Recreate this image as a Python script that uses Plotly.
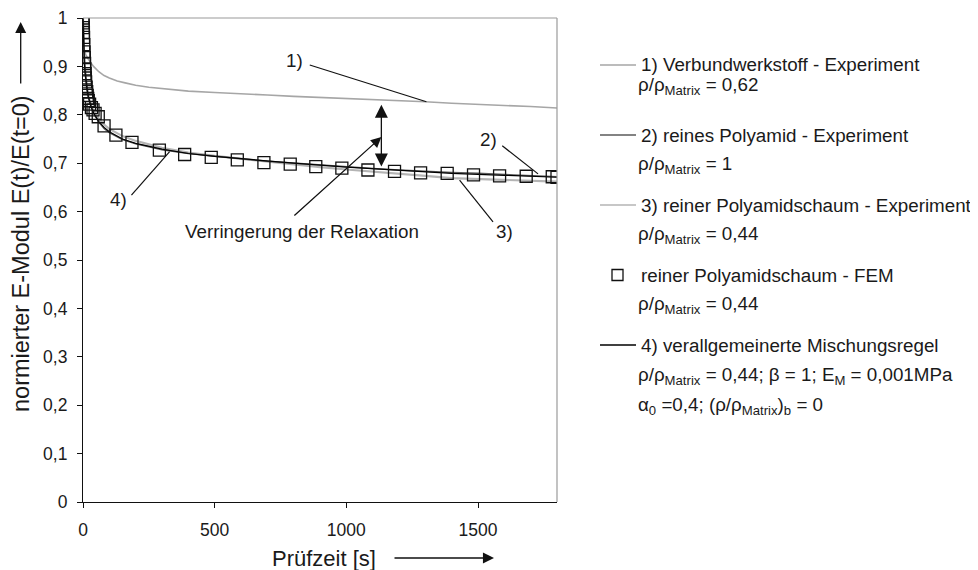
import plotly.graph_objects as go

# ---------------- data ----------------
# 1) Verbundwerkstoff - Experiment
t_verbund = [0, 1, 2, 4, 7, 10, 20, 30, 40, 60, 80, 100, 130, 160, 200, 250, 300, 400, 500,
             600, 700, 800, 900, 1000, 1100, 1200, 1300, 1400, 1500, 1600, 1700, 1800]
e_verbund = [1.0, 0.965, 0.950, 0.937, 0.930, 0.925, 0.915, 0.907, 0.900, 0.889, 0.881, 0.876,
             0.870, 0.866, 0.861, 0.857, 0.854, 0.849, 0.846, 0.844, 0.841, 0.838, 0.836, 0.834,
             0.831, 0.829, 0.827, 0.824, 0.822, 0.819, 0.817, 0.814]

# 2) reines Polyamid - Experiment
t_pa = [0, 1, 2, 4, 6, 10, 15, 20, 30, 40, 60, 80, 100, 150, 200, 300, 400, 500, 600, 700,
        800, 900, 1000, 1100, 1200, 1300, 1400, 1500, 1600, 1700, 1800]
e_pa = [1.0, 0.975, 0.958, 0.930, 0.910, 0.880, 0.855, 0.838, 0.817, 0.803, 0.785, 0.772,
        0.763, 0.749, 0.740, 0.728, 0.720, 0.714, 0.709, 0.704, 0.700, 0.696, 0.692, 0.689,
        0.686, 0.683, 0.681, 0.679, 0.677, 0.675, 0.672]

# 3) reiner Polyamidschaum - Experiment
t_schaum = [0, 1, 2, 4, 6, 10, 15, 20, 30, 40, 60, 80, 100, 150, 200, 300, 400, 500, 600, 700,
            800, 900, 1000, 1100, 1200, 1300, 1400, 1500, 1600, 1700, 1800]
e_schaum = [1.0, 0.970, 0.952, 0.925, 0.905, 0.877, 0.853, 0.838, 0.820, 0.808, 0.792, 0.780,
            0.771, 0.756, 0.746, 0.732, 0.722, 0.715, 0.709, 0.703, 0.697, 0.692, 0.687, 0.683,
            0.679, 0.674, 0.669, 0.667, 0.665, 0.664, 0.662]

# reiner Polyamidschaum - FEM
t_fem = [0, 0.5, 1, 1.5, 2, 3, 4, 5, 6, 7, 8, 9, 10, 12, 14, 16, 18, 20, 25, 32, 38, 46, 58,
         80, 125, 186, 290, 386, 487, 586, 687, 787, 884, 983, 1082, 1183, 1282, 1383, 1483,
         1582, 1683, 1782, 1800]
e_fem = [1.0, 0.99, 0.98, 0.97, 0.96, 0.945, 0.93, 0.918, 0.906, 0.895, 0.885, 0.876, 0.868,
         0.857, 0.848, 0.840, 0.834, 0.829, 0.822, 0.815, 0.810, 0.803, 0.796, 0.777, 0.758,
         0.743, 0.727, 0.718, 0.712, 0.707, 0.701, 0.698, 0.693, 0.690, 0.686, 0.683, 0.680,
         0.679, 0.676, 0.674, 0.673, 0.672, 0.671]

# 4) verallgemeinerte Mischungsregel
t_regel = [0, 0.5, 1, 2, 3, 5, 7, 10, 15, 20, 30, 40, 60, 80, 100, 150, 200, 300, 400, 500,
           600, 800, 1000, 1200, 1400, 1600, 1800]
e_regel = [1.0, 0.98, 0.965, 0.945, 0.93, 0.908, 0.892, 0.874, 0.853, 0.838, 0.818, 0.804,
           0.786, 0.774, 0.765, 0.750, 0.741, 0.729, 0.720, 0.714, 0.709, 0.700, 0.692, 0.685,
           0.679, 0.675, 0.671]

x_ticks = [0, 500, 1000, 1500]
x_ticktext = ["0", "500", "1000", "1500"]
y_ticks = [0, 0.1, 0.2, 0.3, 0.4, 0.5, 0.6, 0.7, 0.8, 0.9, 1.0]
y_ticktext = ["0", "0,1", "0,2", "0,3", "0,4", "0,5", "0,6", "0,7", "0,8", "0,9", "1"]

x_title = "Prüfzeit [s]"
y_title = "normierter E-Modul E(t)/E(t=0)"

legend_main = ["1) Verbundwerkstoff - Experiment",
               "2) reines Polyamid - Experiment",
               "3) reiner Polyamidschaum - Experiment",
               "reiner Polyamidschaum - FEM",
               "4) verallgemeinerte Mischungsregel"]
legend_sub = ["ρ/ρ<sub>Matrix</sub> = 0,62",
              "ρ/ρ<sub>Matrix</sub> = 1",
              "ρ/ρ<sub>Matrix</sub> = 0,44",
              "ρ/ρ<sub>Matrix</sub> = 0,44",
              "ρ/ρ<sub>Matrix</sub> = 0,44; β = 1; E<sub>M</sub> = 0,001MPa",
              "α<sub>0</sub> =0,4; (ρ/ρ<sub>Matrix</sub>)<sub>b</sub> = 0"]

# ---------------- styling ----------------
FONT = "Liberation Sans, Arial, sans-serif"
TXT = "#1a1a1a"
C1 = "#a6a6a6"   # Verbund
C2 = "#5a5a5a"   # reines PA
C3 = "#b4b4b4"   # Schaum exp
C4 = "#000000"   # Mischungsregel
FS = 18.8        # general text size
FS_LEG = 18.8

# page body has an 8px margin -> figure is drawn 8px right/down in the window
OFF = 8
W, H = 970, 562
L, R, T, B = 75, 421, 10, 68
PW, PH = W - L - R, H - T - B


def px(xs):
    """window x pixel -> paper x"""
    return (xs - OFF - L) / PW


def py(ys):
    """window y pixel -> paper y"""
    return (H - B - (ys - OFF)) / PH


fig = go.Figure()
fig.add_trace(go.Scatter(x=t_verbund, y=e_verbund, mode="lines",
                         line=dict(color=C1, width=1.6), name=legend_main[0], showlegend=False))
fig.add_trace(go.Scatter(x=t_schaum, y=e_schaum, mode="lines",
                         line=dict(color=C3, width=2.2), name=legend_main[2], showlegend=False))
fig.add_trace(go.Scatter(x=t_pa, y=e_pa, mode="lines",
                         line=dict(color=C2, width=1.5), name=legend_main[1], showlegend=False))
fig.add_trace(go.Scatter(x=t_regel, y=e_regel, mode="lines",
                         line=dict(color=C4, width=1.2), name=legend_main[4], showlegend=False))
fig.add_trace(go.Scatter(x=t_fem, y=e_fem, mode="markers",
                         marker=dict(symbol="square-open", size=12, color="#111111",
                                     line=dict(width=1.3, color="#111111")),
                         name=legend_main[3], showlegend=False))

shapes = []
# plot-area border (top/right, gray)
shapes.append(dict(type="line", xref="paper", yref="paper", x0=0, x1=1, y0=1, y1=1,
                   line=dict(color="#9a9a9a", width=1.2)))
shapes.append(dict(type="line", xref="paper", yref="paper", x0=1, x1=1, y0=0, y1=1,
                   line=dict(color="#9a9a9a", width=1.2)))

annotations = []
font_lbl = dict(family=FONT, size=FS, color=TXT)

# curve labels with leader lines (positions in data units)
curve_labels = [("1)", 804, 0.913, (861, 0.903), (1304, 0.827)),
                ("2)", 1538, 0.748, (1592, 0.736), (1728, 0.678)),
                ("3)", 1601, 0.558, (1557, 0.579), (1430, 0.665)),
                ("4)", 133, 0.624, (184, 0.634), (329, 0.724))]
for txt, tx, ty, p0, p1 in curve_labels:
    annotations.append(dict(x=tx, y=ty, xref="x", yref="y", text=txt, showarrow=False,
                            font=font_lbl))
    shapes.append(dict(type="line", xref="x", yref="y", x0=p0[0], y0=p0[1], x1=p1[0], y1=p1[1],
                       line=dict(color="#111111", width=1.2)))

annotations.append(dict(x=830, y=0.558, xref="x", yref="y", text="Verringerung der Relaxation",
                        showarrow=False, font=font_lbl))
# diagonal arrow
annotations.append(dict(x=1133, y=0.754, ax=797, ay=0.589, xref="x", yref="y", axref="x",
                        ayref="y", text="", showarrow=True, arrowhead=2, arrowsize=1.6,
                        arrowwidth=1.3, arrowcolor="#111111", standoff=0, startstandoff=0))
# vertical double arrow
annotations.append(dict(x=1133, y=0.821, ax=1133, ay=0.690, xref="x", yref="y", axref="x",
                        ayref="y", text="", showarrow=True, arrowhead=2, startarrowhead=2,
                        arrowside="end+start", arrowsize=2.0, startarrowsize=2.0,
                        arrowwidth=1.3, arrowcolor="#111111", standoff=0, startstandoff=0))

# axis titles (placed as text next to their arrows)
annotations.append(dict(x=px(324), y=py(558), xref="paper", yref="paper", text=x_title,
                        showarrow=False, xanchor="center", yanchor="middle",
                        font=dict(family=FONT, size=22, color=TXT)))
annotations.append(dict(x=px(21), y=py(254), xref="paper", yref="paper", text=y_title,
                        showarrow=False, xanchor="center", yanchor="middle", textangle=-90,
                        font=dict(family=FONT, size=23.5, color=TXT)))

# axis-title arrows
annotations.append(dict(x=px(20.7), y=py(22), xref="paper", yref="paper", ax=0, ay=63,
                        axref="pixel", ayref="pixel", text="", showarrow=True, arrowhead=2,
                        arrowsize=1.7, arrowwidth=1.3, arrowcolor="#111111"))
annotations.append(dict(x=px(494), y=py(558), xref="paper", yref="paper", ax=-101, ay=0,
                        axref="pixel", ayref="pixel", text="", showarrow=True, arrowhead=2,
                        arrowsize=1.7, arrowwidth=1.3, arrowcolor="#111111"))

# manual legend
main_y = [65, 135, 205, 275, 345]
sub_y = [86, 165, 235, 305, 376, 406]
line_cols = [C1, C2, C3, None, C4]
for i, (txt, yy) in enumerate(zip(legend_main, main_y)):
    annotations.append(dict(x=px(639), y=py(yy), xref="paper", yref="paper", text=txt,
                            showarrow=False, xanchor="left", yanchor="middle",
                            font=dict(family=FONT, size=FS_LEG, color=TXT)))
    if line_cols[i] is not None:
        shapes.append(dict(type="line", xref="paper", yref="paper", x0=px(600), x1=px(636),
                           y0=py(yy), y1=py(yy), line=dict(color=line_cols[i], width=1.6)))
    else:
        shapes.append(dict(type="rect", xref="paper", yref="paper", x0=px(612), x1=px(623),
                           y0=py(yy + 5.5), y1=py(yy - 5.5),
                           line=dict(color="#111111", width=1.3)))
for txt, yy in zip(legend_sub, sub_y):
    annotations.append(dict(x=px(636), y=py(yy), xref="paper", yref="paper", text=txt,
                            showarrow=False, xanchor="left", yanchor="middle",
                            font=dict(family=FONT, size=FS_LEG, color=TXT)))

fig.update_layout(
    width=W, height=H,
    margin=dict(l=L, r=R, t=T, b=B, pad=0),
    paper_bgcolor="white", plot_bgcolor="white",
    font=dict(family=FONT, size=FS, color=TXT),
    showlegend=False,
    shapes=shapes, annotations=annotations,
    xaxis=dict(range=[0, 1800], tickvals=x_ticks, ticktext=x_ticktext, showgrid=False,
               zeroline=False, showline=True, linecolor="#111111", linewidth=1.2,
               ticks="outside", ticklen=5, tickcolor="#111111", tickfont=dict(size=17.5),
               ticklabelstandoff=7, automargin=False),
    yaxis=dict(range=[0, 1.0], tickvals=y_ticks, ticktext=y_ticktext, showgrid=False,
               zeroline=False, showline=True, linecolor="#111111", linewidth=1.2,
               ticks="outside", ticklen=5, tickcolor="#111111", tickfont=dict(size=17.5),
               ticklabelstandoff=6, automargin=False),
)

fig.write_html("out.html")
